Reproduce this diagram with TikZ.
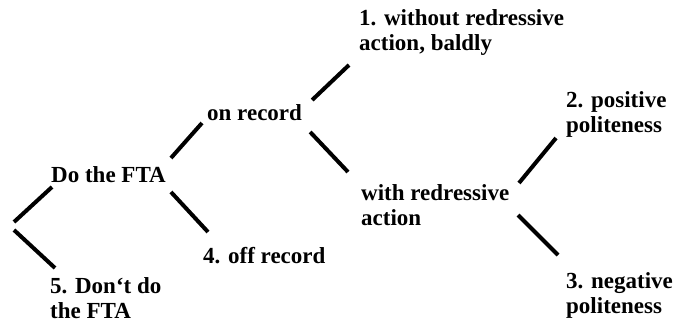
\documentclass[tikz,border=0pt]{standalone}
\usepackage{fontspec}
\setmainfont{Liberation Serif}
\usetikzlibrary{calc}
\begin{document}
\begin{tikzpicture}[x=1pt,y=-1pt,
  lbl/.style={anchor=base west,inner sep=0pt,align=left,
    font=\fontsize{23}{25}\selectfont\bfseries},
  conn/.style={line width=4pt}]
\useasboundingbox (0,0) rectangle (676,322);
\node[lbl] (do) at (51,182) {Do the FTA};
\node[lbl] (on) at (207,120) {on record};
\node[lbl] (off) at (203,263) {4. off record};
\node[lbl] (dont) at (50,318) {5. Don`t do\\the FTA};
\node[lbl] (one) at (359,50) {1. without redressive\\action, baldly};
\node[lbl] (with) at (361,225) {with redressive\\action};
\node[lbl] (two) at (566,132) {2. positive\\politeness};
\node[lbl] (three) at (566,313) {3. negative\\politeness};
\coordinate (root) at (14,226);
% connectors
\draw[conn] ($(root)+(0,-4)$) -- ($(do.base west)+(1,5)$);
\draw[conn] ($(root)+(0,4)$) -- ($(dont.base west)+(5,-50)$);
\draw[conn] ($(do.base east)+(5,-24)$) -- ($(on.base west)+(-5,3)$);
\draw[conn] ($(do.base east)+(5,10)$) -- ($(off.base west)+(5,-31)$);
\draw[conn] ($(on.base east)+(10,-20)$) -- ($(one.base west)+(-10,15)$);
\draw[conn] ($(on.base east)+(8,12)$) -- ($(with.base west)+(-13,-53)$);
\draw[conn] ($(with.base west)+(158,-42)$) -- ($(two.base west)+(-10,6)$);
\draw[conn] ($(with.base west)+(157,-10)$) -- ($(three.base west)+(-8,-58)$);
\end{tikzpicture}
\end{document}
